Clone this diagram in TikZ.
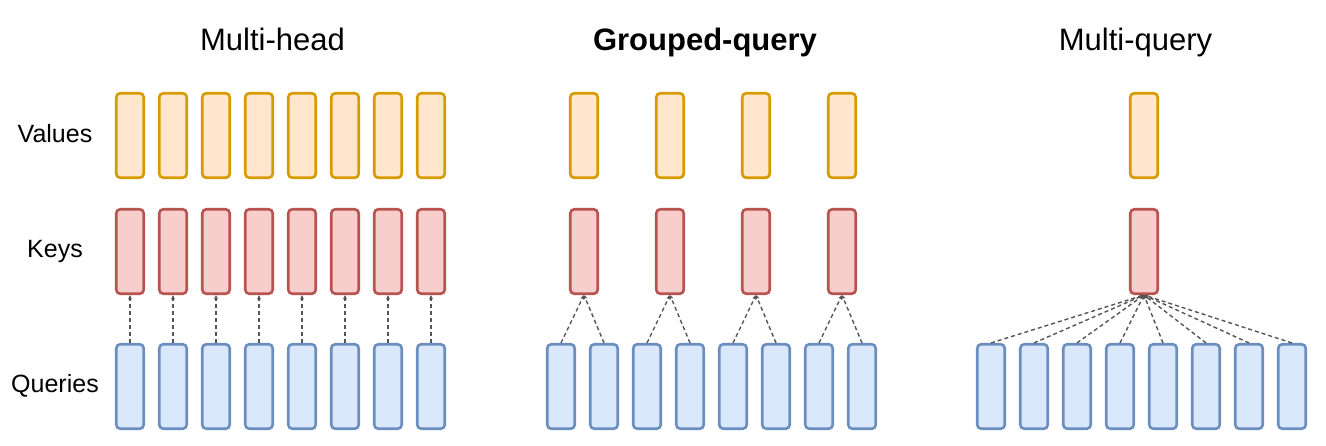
\documentclass[tikz,border=0pt]{standalone}
\usepackage{fontspec}
\setmainfont{Liberation Sans}
\usetikzlibrary{arrows.meta}
\definecolor{vfill}{HTML}{FFE6CC}\definecolor{vdraw}{HTML}{D79B00}
\definecolor{kfill}{HTML}{F8CECC}\definecolor{kdraw}{HTML}{B85450}
\definecolor{qfill}{HTML}{DAE8FC}\definecolor{qdraw}{HTML}{6C8EBF}
\definecolor{conn}{HTML}{555555}
\tikzset{
  headbox/.style={draw, line width=2.6pt, rounded corners=4pt, minimum width=27.5pt, minimum height=84.5pt, inner sep=0pt},
  valbox/.style={headbox, fill=vfill, draw=vdraw},
  keybox/.style={headbox, fill=kfill, draw=kdraw},
  qrybox/.style={headbox, fill=qfill, draw=qdraw},
  link/.style={draw=conn, line width=1.4pt, dash pattern=on 4pt off 3pt, -{Stealth[length=4.5pt,width=4pt]}},
  title/.style={font=\fontsize{31}{36}\selectfont, anchor=base},
  rowlabel/.style={font=\fontsize{25}{29}\selectfont, anchor=base},
}
\begin{document}
\begin{tikzpicture}[x=1pt,y=-1pt]
\useasboundingbox (0,0) rectangle (1326,445);
% titles
\node[title] (t1) at (272.5,50) {Multi-head};
\node[title] (t2) at (705,50) {\bfseries Grouped-query};
\node[title] (t3) at (1135.5,50) {Multi-query};
% row labels
\node[rowlabel] (lv) at (55,142) {Values};
\node[rowlabel] (lk) at (55,257) {Keys};
\node[rowlabel] (lq) at (55,392) {Queries};
% multi-head
\foreach \i in {0,...,7}{
  \node[valbox] (mv\i) at ({130+43*\i},135.5) {};
  \node[keybox] (mk\i) at ({130+43*\i},251.5) {};
  \node[qrybox] (mq\i) at ({130+43*\i},386.5) {};
  \draw[link] (mq\i.north) -- (mk\i.south);
}
% grouped-query
\foreach \g in {0,...,3}{
  \node[valbox] (gv\g) at ({584+86*\g},135.5) {};
  \node[keybox] (gk\g) at ({584+86*\g},251.5) {};
}
\foreach \i in {0,...,7}{
  \pgfmathtruncatemacro{\grp}{div(\i,2)}
  \node[qrybox] (gq\i) at ({561+43*\i},386.5) {};
  \draw[link] (gq\i.north) -- (gk\grp.south);
}
% multi-query
\node[valbox] (qv) at (1144,135.5) {};
\node[keybox] (qk) at (1144,251.5) {};
\foreach \i in {0,...,7}{
  \node[qrybox] (qq\i) at ({991+43*\i},386.5) {};
  \draw[link] (qq\i.north) -- (qk.south);
}
\end{tikzpicture}
\end{document}
